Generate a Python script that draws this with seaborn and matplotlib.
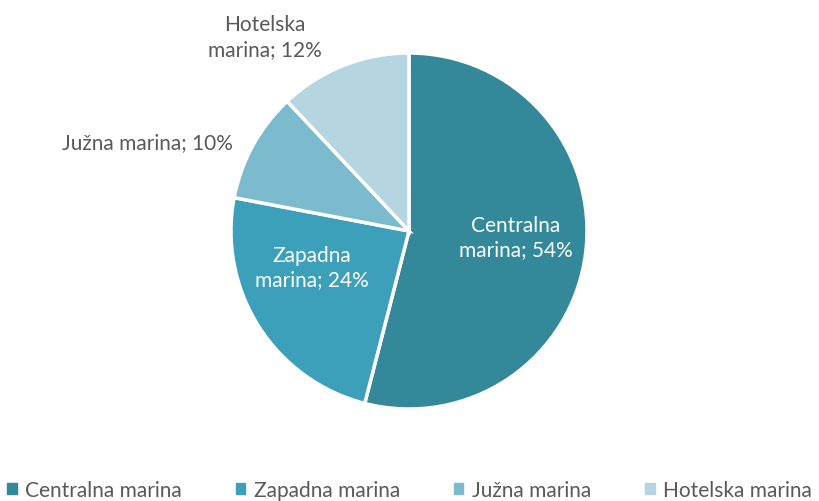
import numpy as np
import matplotlib
matplotlib.use("Agg")
import matplotlib.pyplot as plt
import seaborn as sns

# podaci
categories = ["Centralna marina", "Zapadna marina", "Južna marina", "Hotelska marina"]
shares = [54, 24, 10, 12]
label_texts = ["Centralna\nmarina; 54%", "Zapadna\nmarina; 24%", "Južna marina; 10%", "Hotelska\nmarina; 12%"]
colors = ["#33889A", "#3CA0BA", "#7CBBCD", "#B5D5E1"]

sns.set_theme(style="white")
plt.rcParams['font.family'] = ['Lato', 'DejaVu Sans']

fig = plt.figure(figsize=(8.19, 5.02), dpi=100)
ax = fig.add_axes([231 / 819, 92 / 502, 356 / 819, 356 / 502])

wedges, _ = ax.pie(shares, colors=colors, startangle=90, counterclock=False,
                   wedgeprops=dict(edgecolor="white", linewidth=2.5))
ax.set_aspect("equal")
ax.set_xlim(-1, 1)
ax.set_ylim(-1, 1)

# polozaj natpisa: (radijus, pomak kuta)
layout = [(0.6, 4), (0.58, -12), (1.55, 10), (1.36, 15)]
for w, txt, (r, dang) in zip(wedges, label_texts, layout):
    ang = np.deg2rad((w.theta1 + w.theta2) / 2 + dang)
    inside = r < 1
    ax.text(r * np.cos(ang), r * np.sin(ang), txt, ha="center", va="center",
            fontsize=15, color="white" if inside else "#595959",
            linespacing=1.3)

handles = [plt.Rectangle((0, 0), 1, 1, color=c) for c in colors]
fig.legend(handles, categories, loc="lower center", ncol=4, frameon=False,
           bbox_to_anchor=(0.5, -0.035), labelcolor="#595959",
           prop=dict(size=15),
           handlelength=0.45, handleheight=0.45, handletextpad=0.4, columnspacing=2.6)

fig.savefig("out.png", dpi=100)
